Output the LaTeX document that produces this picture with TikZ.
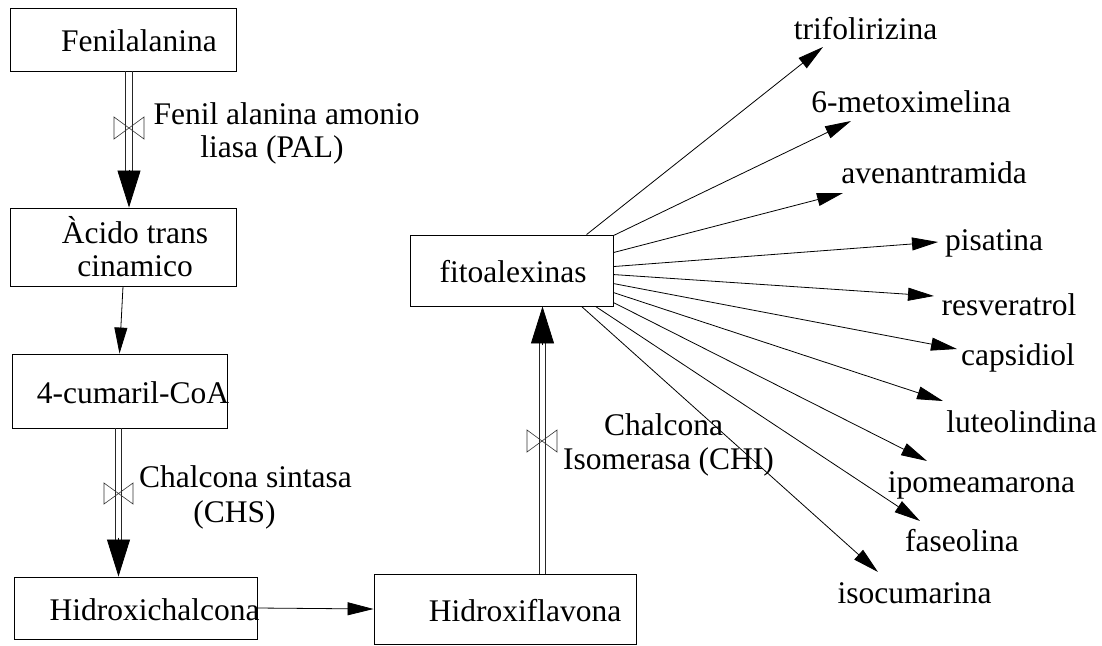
\documentclass[tikz,border=0pt]{standalone}
\usepackage{fontspec}
\setmainfont{Liberation Serif}
\usetikzlibrary{arrows.meta,calc}
\begin{document}
\begin{tikzpicture}[x=1pt,y=-1pt,
  box/.style={draw=black,line width=0.9pt,rectangle,inner sep=0pt},
  txt/.style={inner sep=0pt,anchor=base,font=\fontsize{31.5}{35}\selectfont},
  conn/.style={draw=black,line width=0.8pt},
  rail/.style={draw=black!85,line width=0.8pt},
  bigarrow/.style={conn,-{Triangle[length=37pt,width=23pt]}},
  smallarrow/.style={conn,-{Triangle[length=26pt,width=13pt]}},
  valve/.style={draw=black!80,line width=0.6pt}]
\useasboundingbox (0,0) rectangle (1102,645);

% boxes
\node[box,minimum width=226pt,minimum height=63pt] (fen) at (123,39.5) {};
\node[box,minimum width=226pt,minimum height=78pt] (acid) at (123,247) {};
\node[box,minimum width=215pt,minimum height=74pt] (cum) at (119.5,391) {};
\node[box,minimum width=243pt,minimum height=62pt] (hch) at (135.5,608) {};
\node[box,minimum width=262pt,minimum height=70pt] (hfl) at (505,609) {};
\node[box,minimum width=203pt,minimum height=71pt] (fito) at (511.5,270.5) {};

% box texts
\node[txt] (tfen) at (139,51) {Fenilalanina};
\node[txt] (tacid1) at (135,243) {Àcido trans};
\node[txt] (tacid2) at (135,276) {cinamico};
\node[txt] (tcum) at (133,403) {4-cumaril-CoA};
\node[txt] (thch) at (154.5,620) {Hidroxichalcona};
\node[txt] (thfl) at (525,621) {Hidroxiflavona};
\node[txt] (tfito) at (513,282) {fitoalexinas};

% enzyme labels
\node[txt] (pal1) at (286.5,124) {Fenil alanina amonio};
\node[txt] (pal2) at (272,157) {liasa (PAL)};
\node[txt] (chs1) at (245.5,487) {Chalcona sintasa};
\node[txt] (chs2) at (234.5,522) {(CHS)};
\node[txt] (chi1) at (663.5,435) {Chalcona};
\node[txt] (chi2) at (668.5,469) {Isomerasa (CHI)};

% product labels
\node[txt] (trif) at (865.5,39) {trifolirizina};
\node[txt] (met) at (911,112) {6-metoximelina};
\node[txt] (ave) at (934,183) {avenantramida};
\node[txt] (pis) at (994,250) {pisatina};
\node[txt] (res) at (1009,315) {resveratrol};
\node[txt] (cap) at (1018,365) {capsidiol};
\node[txt] (lut) at (1021.5,432) {luteolindina};
\node[txt] (ipo) at (981.5,492) {ipomeamarona};
\node[txt] (fas) at (962,551) {faseolina};
\node[txt] (iso) at (914.5,603) {isocumarina};

% arrow tip points
\coordinate (ktrif) at (823,47);
\coordinate (kmet) at (851,121);
\coordinate (kave) at (843,193);
\coordinate (kpis) at (938,242);
\coordinate (kres) at (934,296);
\coordinate (kcap) at (957,349);
\coordinate (klut) at (943,401);
\coordinate (kipo) at (927,461);
\coordinate (kfas) at (920,521);
\coordinate (kiso) at (878,572);

% fan from fitoalexinas
\draw[smallarrow] ($(fito.north west)+(177,0)$) -- (ktrif);
\draw[smallarrow] ($(fito.north east)+(0,1)$) -- (kmet);
\draw[smallarrow] ($(fito.north east)+(0,18)$) -- (kave);
\draw[smallarrow] ($(fito.north east)+(0,32)$) -- (kpis);
\draw[smallarrow] ($(fito.north east)+(0,40)$) -- (kres);
\draw[smallarrow] ($(fito.north east)+(0,49)$) -- (kcap);
\draw[smallarrow] ($(fito.north east)+(0,58)$) -- (klut);
\draw[smallarrow] ($(fito.north east)+(0,68)$) -- (kipo);
\draw[smallarrow] ($(fito.south west)+(186,0)$) -- (kfas);
\draw[smallarrow] ($(fito.south west)+(172,0)$) -- (kiso);

% single arrows
\draw[smallarrow] (acid.south) -- (cum.north);
\draw[smallarrow] (hch.east) -- (hfl.west);

% double (enzymatic) arrows: PAL
\coordinate (palA) at ([xshift=6pt]fen.south);
\coordinate (palB) at ([xshift=6pt]acid.north);
\draw[rail] ($(palA)+(-3.2,0)$) -- ($(palB)+(-3.2,-36)$);
\draw[rail] ($(palA)+(3.2,0)$) -- ($(palB)+(3.2,-36)$);
\draw[bigarrow] ($(palB)+(0,-38)$) -- (palB);
\draw[valve] (114,117) -- (114,139) -- (144,117) -- (144,139) -- cycle;

% CHS
\coordinate (chsA) at ([xshift=-1pt]cum.south);
\coordinate (chsB) at (chsA |- hch.north);
\draw[rail] ($(chsA)+(-3.2,0)$) -- ($(chsB)+(-3.2,-37)$);
\draw[rail] ($(chsA)+(3.2,0)$) -- ($(chsB)+(3.2,-37)$);
\draw[bigarrow] ($(chsB)+(0,-39)$) -- (chsB);
\draw[valve] (104,483) -- (104,504) -- (133,483) -- (133,504) -- cycle;

% CHI
\coordinate (chiA) at ([xshift=37.5pt]hfl.north);
\coordinate (chiB) at (chiA |- fito.south);
\draw[rail] ($(chiA)+(-3.2,0)$) -- ($(chiB)+(-3.2,37)$);
\draw[rail] ($(chiA)+(3.2,0)$) -- ($(chiB)+(3.2,37)$);
\draw[bigarrow] ($(chiB)+(0,39)$) -- (chiB);
\draw[valve] (527,430) -- (527,452) -- (557,430) -- (557,452) -- cycle;
\end{tikzpicture}
\end{document}
